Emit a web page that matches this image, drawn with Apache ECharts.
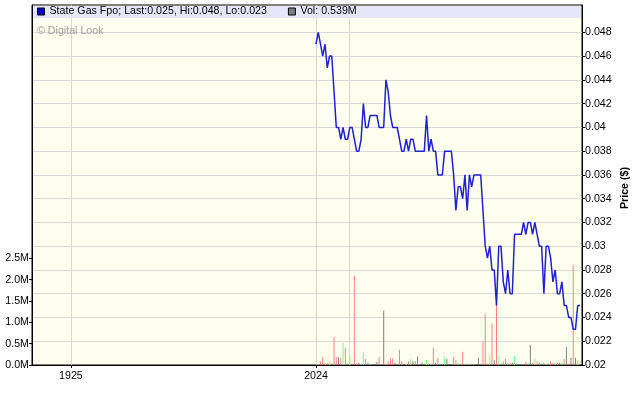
<!DOCTYPE html>
<html><head><meta charset="utf-8">
<script src="https://cdn.jsdelivr.net/npm/echarts@6/dist/echarts.min.js"></script>
<style>html,body{margin:0;padding:0;background:#fff}#c{width:640px;height:401px}</style>
</head><body><div id="c"></div>
<script>
// Closing prices ($), one per trading session, oldest first
const prices = [
0.047,0.048,0.047,0.046,0.047,0.045,0.046,0.046,0.043,0.040,
0.040,0.039,0.040,0.039,0.039,0.040,0.040,0.039,0.038,0.038,
0.039,0.042,0.040,0.040,0.041,0.041,0.041,0.041,0.040,0.040,
0.040,0.044,0.043,0.041,0.040,0.040,0.040,0.039,0.038,0.038,
0.039,0.038,0.039,0.039,0.038,0.038,0.038,0.038,0.038,0.041,
0.038,0.039,0.038,0.038,0.036,0.036,0.036,0.038,0.038,0.038,
0.038,0.036,0.033,0.035,0.035,0.034,0.036,0.033,0.036,0.035,
0.036,0.036,0.036,0.036,0.033,0.030,0.029,0.030,0.028,0.028,
0.025,0.030,0.030,0.027,0.026,0.028,0.026,0.026,0.031,0.031,
0.031,0.031,0.032,0.031,0.032,0.032,0.031,0.032,0.031,0.030,
0.030,0.026,0.030,0.030,0.029,0.027,0.028,0.026,0.026,0.027,
0.025,0.025,0.024,0.024,0.023,0.023,0.025,0.025
];
// Volume (millions of shares), same sessions
const volumes = [
0.02,0.03,0.08,0.19,0.05,0.05,0.08,0.03,0.66,0.19,
0.19,0.17,0.52,0.40,0.03,0.23,0.03,2.09,0.03,0.05,
0.03,0.28,0.14,0.05,0.03,0.02,0.02,0.07,0.19,0.02,
1.27,0.03,0.08,0.16,0.16,0.05,0.02,0.36,0.09,0.02,
0.03,0.08,0.14,0.08,0.09,0.20,0.02,0.06,0.02,0.12,
0.03,0.02,0.41,0.05,0.17,0.02,0.02,0.19,0.14,0.02,
0.02,0.19,0.12,0.05,0.02,0.31,0.03,0.03,0.02,0.03,
0.02,0.02,0.17,0.02,0.56,1.20,0.03,0.22,0.97,0.12,
1.41,0.22,0.03,0.09,0.14,0.05,0.05,0.05,0.20,0.03,
0.02,0.02,0.02,0.08,0.05,0.47,0.05,0.14,0.09,0.05,
0.03,0.06,0.02,0.03,0.08,0.05,0.05,0.05,0.05,0.08,
0.14,0.42,0.03,0.17,2.34,0.17,0.12,0.03
];
const priceTicks = [0.02,0.022,0.024,0.026,0.028,0.03,0.032,0.034,0.036,0.038,0.04,0.042,0.044,0.046,0.048];
const volTicks = [0,0.5,1,1.5,2,2.5];
// x-axis tick labels, positioned in session-index units
const xTickValues = [-108.6, 0];
const xTickLabels = ['1925', '2024'];
const xGridValues = [-108.6, 0, 14.8];
const legendPrice = 'State Gas Fpo; Last:0.025, Hi:0.048, Lo:0.023';
const legendVol = 'Vol: 0.539M';

const FONT = '"Liberation Sans", Arial, sans-serif';
const FS = 10.67;
const UP = '#80FF80', DOWN = '#FF8080', FLAT = '#808080';

const linePts = prices.map((p, i) => [i, p]);
const volPts = volumes.map((v, i) => {
  let c = FLAT;
  if (i > 0 && prices[i] > prices[i - 1]) c = UP;
  else if (i > 0 && prices[i] < prices[i - 1]) c = DOWN;
  return { value: [i, v], itemStyle: { color: c } };
});

const chart = echarts.init(document.getElementById('c'), null, { renderer: 'canvas' });
chart.setOption({
  animation: false,
  textStyle: { fontFamily: FONT },
  grid: { left: 32, right: 58, top: 5, bottom: 36, show: true, backgroundColor: '#FFFFF0', borderColor: '#000', borderWidth: 1 },
  legend: {
    left: 37, top: 6, padding: 0, itemWidth: 7, itemHeight: 7, itemGap: 21, icon: 'rect', z: 20,
    selectedMode: false,
    textStyle: { fontSize: FS, color: '#000', fontFamily: FONT },
    data: [
      { name: legendPrice, itemStyle: { color: '#0000C8', borderColor: '#000', borderWidth: 1 } },
      { name: legendVol, itemStyle: { color: '#808080', borderColor: '#000', borderWidth: 1 } }
    ]
  },
  xAxis: {
    type: 'value', min: -125.86, max: 117.89,
    axisLine: { show: true, onZero: false, lineStyle: { color: '#000' } },
    axisTick: { show: true, length: 3, customValues: xTickValues, lineStyle: { color: '#000' } },
    axisLabel: { customValues: xTickValues, color: '#000', fontSize: FS, fontFamily: FONT, margin: 6,
      formatter: v => { const k = xTickValues.indexOf(v); return k >= 0 ? xTickLabels[k] : ''; } },
    splitLine: { show: false }
  },
  yAxis: [
    {
      type: 'value', position: 'right', min: 0.02, max: 0.0503, interval: 0.002,
      axisLine: { show: true, onZero: false, lineStyle: { color: '#000' } },
      axisTick: { show: true, length: 3, customValues: priceTicks, lineStyle: { color: '#000' } },
      axisLabel: { customValues: priceTicks, color: '#000', fontSize: FS, fontFamily: FONT, margin: 3,
        formatter: v => String(+v.toFixed(3)) },
      splitLine: { show: true, lineStyle: { color: '#D8D8D8', width: 1 } }
    },
    {
      type: 'value', position: 'left', min: 0, max: 8.435,
      axisLine: { show: true, onZero: false, lineStyle: { color: '#000' } },
      axisTick: { show: true, length: 3, customValues: volTicks, lineStyle: { color: '#000' } },
      axisLabel: { customValues: volTicks, color: '#000', fontSize: FS, fontFamily: FONT, margin: 3,
        formatter: v => v.toFixed(1) + 'M' },
      splitLine: { show: false }
    }
  ],
  series: [
    {
      name: legendVol, type: 'bar', yAxisIndex: 1, data: volPts, barWidth: 1, z: 2,
      itemStyle: { color: '#808080' },
      markLine: {
        silent: true, symbol: 'none', z: 1, animation: false,
        label: { show: false },
        lineStyle: { color: '#D8D8D8', width: 1, type: 'solid' },
        data: xGridValues.map(v => ({ xAxis: v }))
      }
    },
    {
      name: legendPrice, type: 'line', yAxisIndex: 0, data: linePts, showSymbol: false, z: 3,
      lineStyle: { color: '#2020D0', width: 1.5 }, itemStyle: { color: '#0000C8' }
    }
  ],
  graphic: [
    { type: 'rect', z: 10, shape: { x: 33, y: 6, width: 548, height: 12 }, style: { fill: '#E6E6FA' } },
    { type: 'text', z: 10, x: 37, y: 31, style: { text: '© Digital Look', fill: '#A0A0A0', fontSize: FS, fontFamily: FONT, verticalAlign: 'middle' } },
    { type: 'text', z: 10, x: 625, y: 188, rotation: Math.PI / 2,
      style: { text: 'Price ($)', fill: '#000', fontSize: FS, fontWeight: 'bold', fontFamily: FONT, align: 'center', verticalAlign: 'middle' } }
  ]
});
</script>
</body></html>
